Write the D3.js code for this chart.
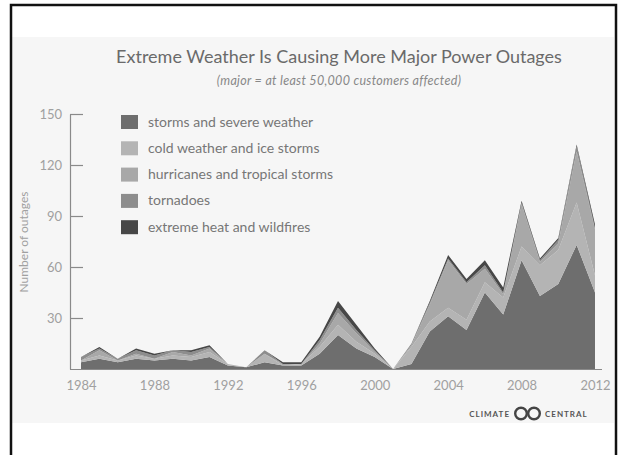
<!DOCTYPE html>
<html>
<head>
<meta charset="utf-8">
<script src="https://cdn.jsdelivr.net/npm/d3@7/dist/d3.min.js"></script>
<style>
  html, body { margin: 0; padding: 0; background: #fff; }
  svg { display: block; font-family: Lato, "Open Sans", sans-serif; }
</style>
</head>
<body>
<svg id="chart" width="618" height="455"></svg>
<script>
// Major power outages (≥ 50,000 customers) per year, by cause
const years = d3.range(1984, 2013);
const storms     = [4, 6, 4, 6, 5, 6, 5, 7, 2, 1, 4, 2, 2, 9, 20, 12, 7, 0, 3, 22, 31, 23, 45, 32, 64, 43, 50, 73, 45];
const cold       = [1, 2, 1, 2, 1, 2, 2, 3, 1, 0, 5, 0, 1, 4, 6, 4, 2, 0, 10, 6, 5, 6, 6, 10, 8, 18, 20, 25, 10];
const hurricanes = [0, 3, 0, 1, 0, 2, 1, 2, 0, 0, 0, 1, 0, 2, 7, 5, 1, 0, 1, 10, 28, 21, 8, 2, 25, 2, 4, 30, 27];
const tornadoes  = [2, 1, 1, 2, 2, 1, 2, 1, 0, 0, 2, 0, 0, 2, 3, 2, 1, 0, 1, 1, 1, 1, 2, 1, 1, 1, 2, 3, 1];
const heat       = [0, 1, 0, 1, 1, 0, 1, 1, 0, 0, 0, 1, 1, 2, 4, 3, 1, 0, 0, 1, 2, 2, 3, 3, 1, 1, 1, 1, 2];

const seriesNames = ["storms and severe weather", "cold weather and ice storms",
  "hurricanes and tropical storms", "tornadoes", "extreme heat and wildfires"];
const seriesColors = ["#6e6e6e", "#b4b4b4", "#a8a8a8", "#8d8d8d", "#474747"];
const yTicks = [30, 60, 90, 120, 150];
const xTicks = [1984, 1988, 1992, 1996, 2000, 2004, 2008, 2012];

const keys = ["storms", "cold", "hurricanes", "tornadoes", "heat"];
const rows = years.map((yr, i) => ({
  year: yr, storms: storms[i], cold: cold[i], hurricanes: hurricanes[i],
  tornadoes: tornadoes[i], heat: heat[i]
}));

const svg = d3.select("#chart");

// frame and panel
svg.append("rect").attr("x", 12).attr("y", 37).attr("width", 602).attr("height", 386)
  .attr("fill", "#f6f6f6");
svg.append("rect").attr("x", 11).attr("y", 5).attr("width", 605).attr("height", 520)
  .attr("fill", "none").attr("stroke", "#111").attr("stroke-width", 2.5);

const x = d3.scaleLinear().domain([1984, 2012]).range([81, 595]);
const y = d3.scaleLinear().domain([0, 150]).range([369, 114]);

// stacked areas
const stacked = d3.stack().keys(keys)(rows);
const area = d3.area()
  .x(d => x(d.data.year))
  .y0(d => y(d[0]))
  .y1(d => y(d[1]));
svg.append("g").selectAll("path").data(stacked).join("path")
  .attr("d", area)
  .attr("fill", (d, i) => seriesColors[i]);

// y axis
const yAxis = d3.axisLeft(y).tickValues(yTicks).tickSizeInner(-13).tickSizeOuter(0).tickPadding(8);
const gy = svg.append("g").attr("transform", "translate(70,0)").call(yAxis);
gy.select(".domain").attr("stroke", "#8a8a8a").attr("stroke-width", 1.2);
gy.selectAll(".tick line").attr("stroke", "#8a8a8a").attr("stroke-width", 1.2);
gy.selectAll(".tick text").attr("fill", "#a0a0a0").style("font-size", "13px")
  .style("font-family", "Lato, sans-serif");

// x axis
svg.append("line").attr("x1", 70).attr("x2", 602).attr("y1", 369.5).attr("y2", 369.5)
  .attr("stroke", "#8a8a8a").attr("stroke-width", 1.2);
const xAxis = d3.axisBottom(x).tickValues(xTicks).tickFormat(d3.format("d")).tickSize(0).tickPadding(12);
const gx = svg.append("g").attr("transform", "translate(0,369)").call(xAxis);
gx.select(".domain").remove();
gx.selectAll(".tick text").attr("fill", "#a0a0a0").style("font-size", "13px")
  .style("font-family", "Lato, sans-serif");

// y axis title
svg.append("text")
  .attr("transform", "translate(28,242) rotate(-90)")
  .attr("text-anchor", "middle")
  .attr("fill", "#a0a0a0").style("font-size", "12px")
  .text("Number of outages");

// titles
svg.append("text").attr("x", 339).attr("y", 63).attr("text-anchor", "middle")
  .attr("fill", "#6a6a6a").style("font-size", "18px")
  .text("Extreme Weather Is Causing More Major Power Outages");
svg.append("text").attr("x", 339).attr("y", 85).attr("text-anchor", "middle")
  .attr("fill", "#888").style("font-size", "12.5px").style("font-style", "italic")
  .style("letter-spacing", "0.3px")
  .text("(major = at least 50,000 customers affected)");

// legend
const legend = svg.append("g").selectAll("g").data(seriesNames).join("g")
  .attr("transform", (d, i) => `translate(121,${115 + i * 26.3})`);
legend.append("rect").attr("width", 17).attr("height", 14)
  .attr("fill", (d, i) => seriesColors[i]);
legend.append("text").attr("x", 27).attr("y", 11.5)
  .attr("fill", "#777").style("font-size", "14px")
  .text(d => d);

// logo
const logo = svg.append("g").attr("fill", "#555");
logo.append("text").attr("x", 510).attr("y", 416.5).attr("text-anchor", "end")
  .style("font-size", "8px").style("font-weight", "bold").style("letter-spacing", "1px")
  .text("CLIMATE");
logo.append("circle").attr("cx", 521).attr("cy", 413.5).attr("r", 5.8)
  .attr("fill", "none").attr("stroke", "#444").attr("stroke-width", 2.4);
logo.append("circle").attr("cx", 534).attr("cy", 413.5).attr("r", 5.8)
  .attr("fill", "none").attr("stroke", "#444").attr("stroke-width", 2.4);
logo.append("text").attr("x", 545).attr("y", 416.5)
  .style("font-size", "8px").style("font-weight", "bold").style("letter-spacing", "1px")
  .text("CENTRAL");
</script>
</body>
</html>
